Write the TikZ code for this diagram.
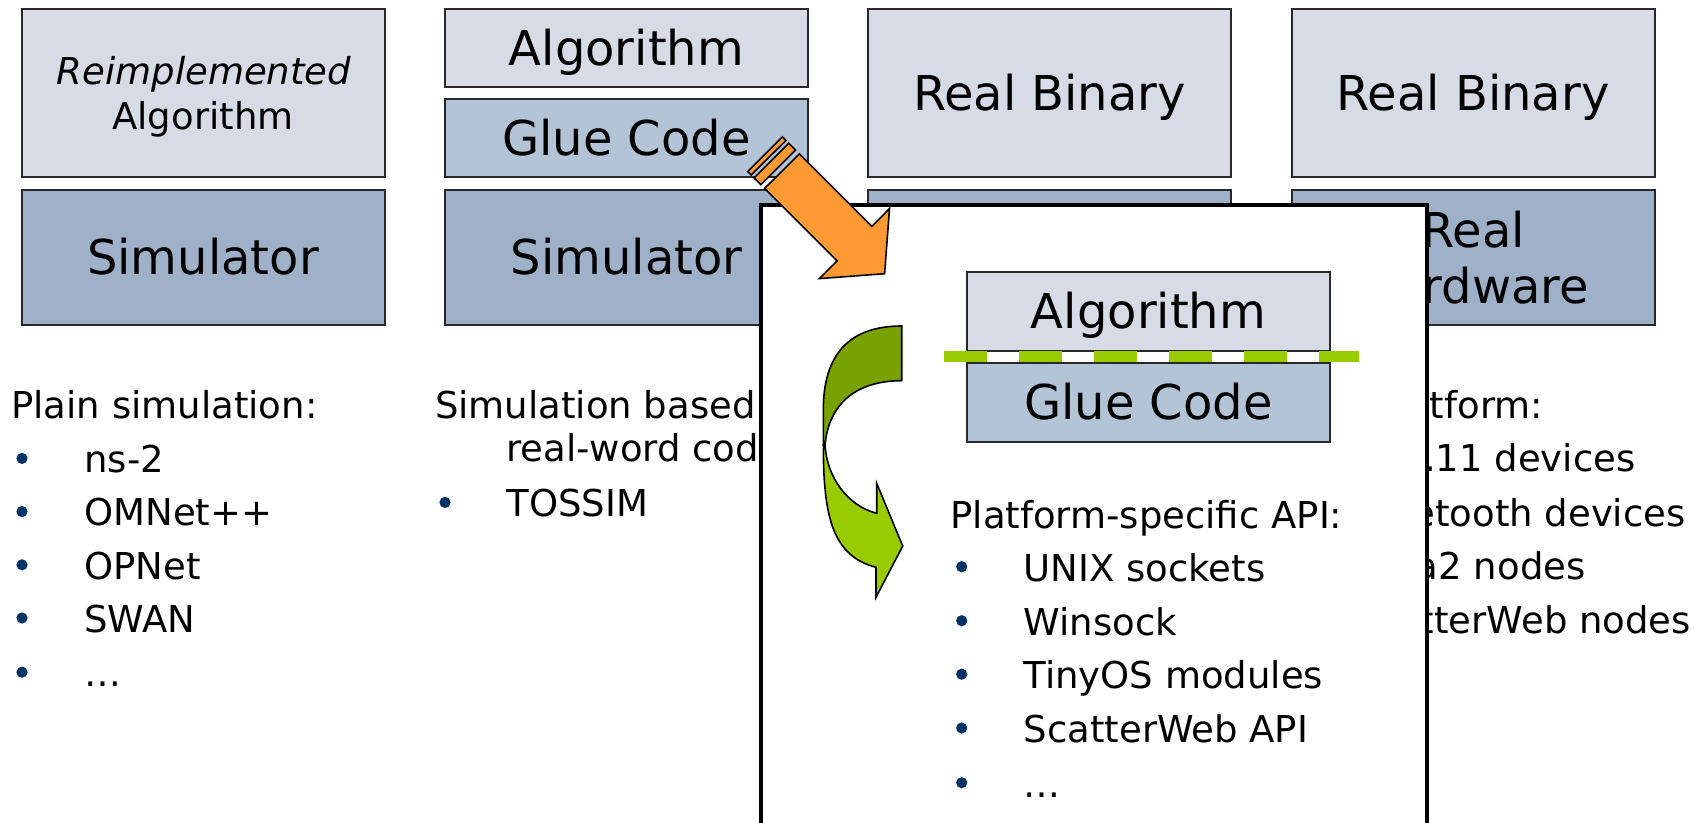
\documentclass[tikz,border=0pt]{standalone}
\usepackage{fontspec}
\setmainfont{DejaVu Sans}
\definecolor{boxlight}{RGB}{214,219,230}
\definecolor{boxmid}{RGB}{179,196,215}
\definecolor{boxdark}{RGB}{159,177,200}
\definecolor{edgegray}{RGB}{40,40,40}
\definecolor{bulblue}{RGB}{0,51,102}
\definecolor{orangefill}{RGB}{255,153,51}
\definecolor{greendark}{RGB}{119,162,0}
\definecolor{greenlime}{RGB}{153,204,0}
\begin{document}
\begin{tikzpicture}[x=0.5pt,y=-0.5pt,
  box/.style={draw=edgegray, line width=1pt, inner sep=0pt, outer sep=0pt,
    minimum width=181.5pt, font=\fontsize{24pt}{28pt}\selectfont,
    text height=17.5pt, text depth=0pt},
  lightbox/.style={box, fill=boxlight},
  midbox/.style={box, fill=boxmid},
  darkbox/.style={box, fill=boxdark},
  tallbox/.style={minimum height=84pt},
  shortbox/.style={minimum height=39pt},
  lowbox/.style={minimum height=67.5pt},
  txt/.style={inner sep=0pt, anchor=base west, font=\fontsize{18.5pt}{22pt}\selectfont},
  ctxt/.style={inner sep=0pt, anchor=base, font=\fontsize{18.5pt}{22pt}\selectfont},
  bigtxt/.style={inner sep=0pt, anchor=base, font=\fontsize{24pt}{28pt}\selectfont},
  bul/.style={fill=bulblue},
  blockarrow/.style={draw=black, line width=0.8pt, line join=miter},
]
\useasboundingbox (0,0) rectangle (1708,823);
\fill[white] (0,0) rectangle (1708,823);

% ---------- column 1 ----------
\node[lightbox,tallbox] (reimp) at (203,93) {};
\node[ctxt, font=\fontsize{18.5pt}{22pt}\selectfont\itshape] (reimpA) at (204,85) {Reimplemented};
\node[ctxt] (reimpB) at (203,129.5) {Algorithm};
\node[darkbox,lowbox] (sim1) at (203,257.5) {Simulator};

\node[txt] (h1) at (11,419) {Plain simulation:};
\foreach \t/\yy [count=\i] in {ns-2/472.7, OMNet++/525.9, OPNet/579.1, SWAN/632.3, …/686.5}{
  \fill[bul] (22,\yy-14.3) circle (2.8pt);
  \node[txt] (c1i\i) at (84,\yy) {\t};
}

% ---------- column 2 ----------
\node[lightbox,shortbox] (alg2) at (626.5,48) {Algorithm};
\node[midbox,shortbox] (glue2) at (626.5,138) {Glue Code};
\node[darkbox,lowbox] (sim2) at (626.5,257.5) {Simulator};

\node[txt] (h2a) at (434.7,419) {Simulation based on};
\node[txt] (h2b) at (506,461.7) {real-word code:};
\fill[bul] (445,502.4) circle (2.8pt);
\node[txt] (c2i1) at (506,516.7) {TOSSIM};

% ---------- column 3 ----------
\node[lightbox,tallbox] (bin3) at (1049.5,93) {Real Binary};
\node[darkbox,lowbox] (hw3) at (1049.5,257.5) {};

% ---------- column 4 ----------
\node[lightbox,tallbox] (bin4) at (1473,93) {Real Binary};
\node[darkbox,lowbox] (hw4) at (1473,257.5) {};
\node[bigtxt] (hw4a) at (1473,248) {Real};
\node[bigtxt] (hw4b) at (1473,304) {Hardware};

\node[txt] (h4) at (1281.5,419) {Real platform:};
\foreach \t/\yy [count=\i] in {802.11 devices/471.8, Bluetooth devices/526, Mica2 nodes/579, ScatterWeb nodes/633.2}{
  \fill[bul] (1292.5,\yy-14.3) circle (2.8pt);
  \node[txt] (c4i\i) at (1353,\yy) {\t};
}

% ---------- overlay panel ----------
\node[draw=black, line width=2pt, fill=white, inner sep=0pt, outer sep=0pt,
      minimum width=333pt, minimum height=337.5pt] (panel) at (1094,542.5) {};

\node[lightbox,minimum height=39.5pt] (alg5) at (1148.5,311.5) {Algorithm};
\node[midbox,minimum height=39.5pt] (glue5) at (1148.5,402.5) {Glue Code};
\coordinate (dashL) at (944,356.5);
\coordinate (dashR) at (1359,356.5);
\draw[greenlime, line width=5.5pt, dash pattern=on 21.5pt off 16pt] (dashL) -- (dashR);

\node[txt] (h5) at (950,528) {Platform-specific API:};
\foreach \t/\yy [count=\i] in {UNIX sockets/581, Winsock/635, TinyOS modules/688.5, ScatterWeb API/742.3, …/797}{
  \fill[bul] (961.7,\yy-14.3) circle (2.8pt);
  \node[txt] (c5i\i) at (1023.3,\yy) {\t};
}

% green curved arrow
\draw[blockarrow, fill=greenlime]
  (823.3,445) .. controls (823.3,518) and (833,556) .. (876,567.3)
  -- (876,597.3) -- (902.7,546) -- (876.7,483.3) -- (876.7,513.3)
  .. controls (848,506) and (827,478) .. (825,445) -- cycle;
\draw[blockarrow, fill=greendark]
  (901.7,326) .. controls (846,326) and (823.3,358) .. (823.3,410)
  -- (823.3,445) -- (825,445)
  .. controls (829,402) and (858,380.7) .. (901.7,380.7) -- cycle;

% orange striped arrow
\draw[blockarrow, fill=orangefill]
  (747.8,171.5) -- (751.3,175.0) -- (786.0,140.4) -- (782.4,136.8) -- cycle;
\draw[blockarrow, fill=orangefill]
  (754.1,177.8) -- (760.9,184.6) -- (795.5,149.9) -- (788.8,143.2) -- cycle;
\draw[blockarrow, fill=orangefill]
  (764.7,188.4) -- (837.2,260.9) -- (819.5,278.6) -- (884.6,273.7)
  -- (889.5,208.6) -- (871.9,226.3) -- (799.4,153.8) -- cycle;
\end{tikzpicture}
\end{document}
